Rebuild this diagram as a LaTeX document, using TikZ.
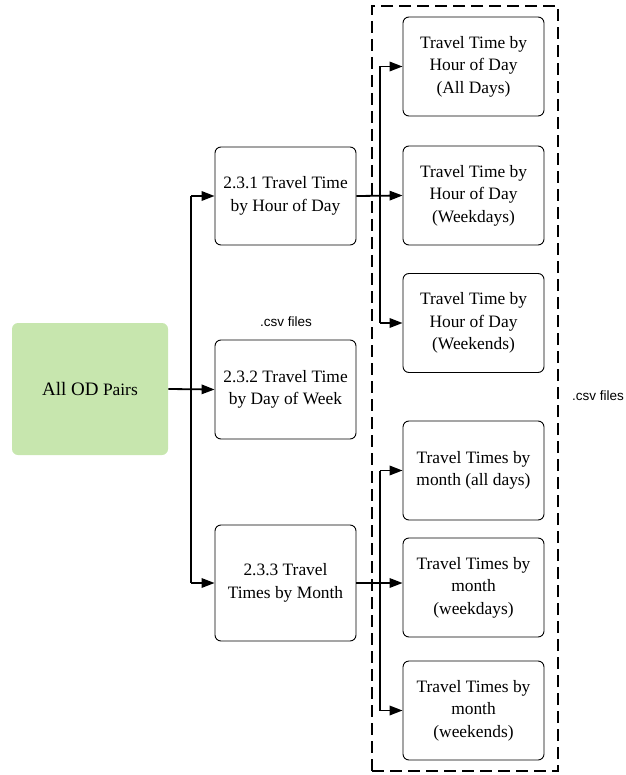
\documentclass[tikz,border=0pt]{standalone}
\usepackage{fontspec}
\setmainfont{Liberation Serif}
\setsansfont{Liberation Sans}
\usetikzlibrary{arrows.meta}
\definecolor{leafgreen}{RGB}{199,230,174}
\begin{document}
\begin{tikzpicture}[x=1pt,y=-1pt,
  card/.style={draw=black,line width=0.9pt,rounded corners=6pt,align=center,
    inner sep=0pt,font=\fontsize{17.4}{22.6}\selectfont},
  midcard/.style={card,minimum width=141pt},
  outcard/.style={card,minimum width=141pt,minimum height=99pt},
  link/.style={line width=1.8pt,-{Triangle[length=13pt,width=9.5pt]}},
  trunk/.style={line width=1.8pt},
  note/.style={font=\sffamily\fontsize{13.5}{16}\selectfont,inner sep=0pt}]
\useasboundingbox (0,0) rectangle (625,775);

% source
\node[card,draw=none,fill=leafgreen,minimum width=156pt,minimum height=132pt]
  (src) at (90,389) {{\fontsize{19}{22}\selectfont All OD} {\fontsize{17.4}{22}\selectfont Pairs}};

% analysis steps
\node[midcard,minimum height=98pt] (hour) at (285.5,196) {2.3.1 Travel Time\\ by Hour of Day};
\node[midcard,minimum height=99pt] (dow) at (285.5,389.5) {2.3.2 Travel Time\\ by Day of Week};
\node[midcard,minimum height=116pt] (month) at (285.5,583) {2.3.3 Travel\\ Times by Month};

% outputs
\node[outcard] (h1) at (473.5,66.5) {Travel Time by\\ Hour of Day\\ (All Days)};
\node[outcard] (h2) at (473.5,195.5) {Travel Time by\\ Hour of Day\\ (Weekdays)};
\node[outcard] (h3) at (473.5,323) {Travel Time by\\ Hour of Day\\ (Weekends)};
\node[outcard] (m1) at (473.5,470.5) {Travel Times by\\ month (all days)};
\node[outcard] (m2) at (473.5,587.5) {Travel Times by\\ month\\ (weekdays)};
\node[outcard] (m3) at (473.5,710.5) {Travel Times by\\ month\\ (weekends)};

% output group
\node[draw=black,line width=1.4pt,dash pattern=on 12pt off 6pt,inner sep=0pt,
  minimum width=186pt,minimum height=765pt] (group) at (465,388.5) {};

% labels
\node[note] (csvA) at (286,322) {.csv files};
\node[note] (csvB) at (598,396) {.csv files};

% trunk points
\coordinate (lt) at (191,0);
\coordinate (rt) at (380,0);

% source to steps
\draw[link] (src.east) -- (dow.west);
\draw[trunk] (lt |- hour.west) -- (lt |- month.west);
\draw[link] (lt |- hour.west) -- (hour.west);
\draw[link] (lt |- month.west) -- (month.west);

% hour of day outputs
\draw[link] (hour.east) -- (h2.west);
\draw[trunk] (rt |- h1.west) -- (rt |- h3.west);
\draw[link] (rt |- h1.west) -- (h1.west);
\draw[link] (rt |- h3.west) -- (h3.west);

% month outputs
\draw[link] (month.east) -- (month.east -| m2.west);
\draw[trunk] (rt |- m1.west) -- (rt |- m3.west);
\draw[link] (rt |- m1.west) -- (m1.west);
\draw[link] (rt |- m3.west) -- (m3.west);
\end{tikzpicture}
\end{document}
